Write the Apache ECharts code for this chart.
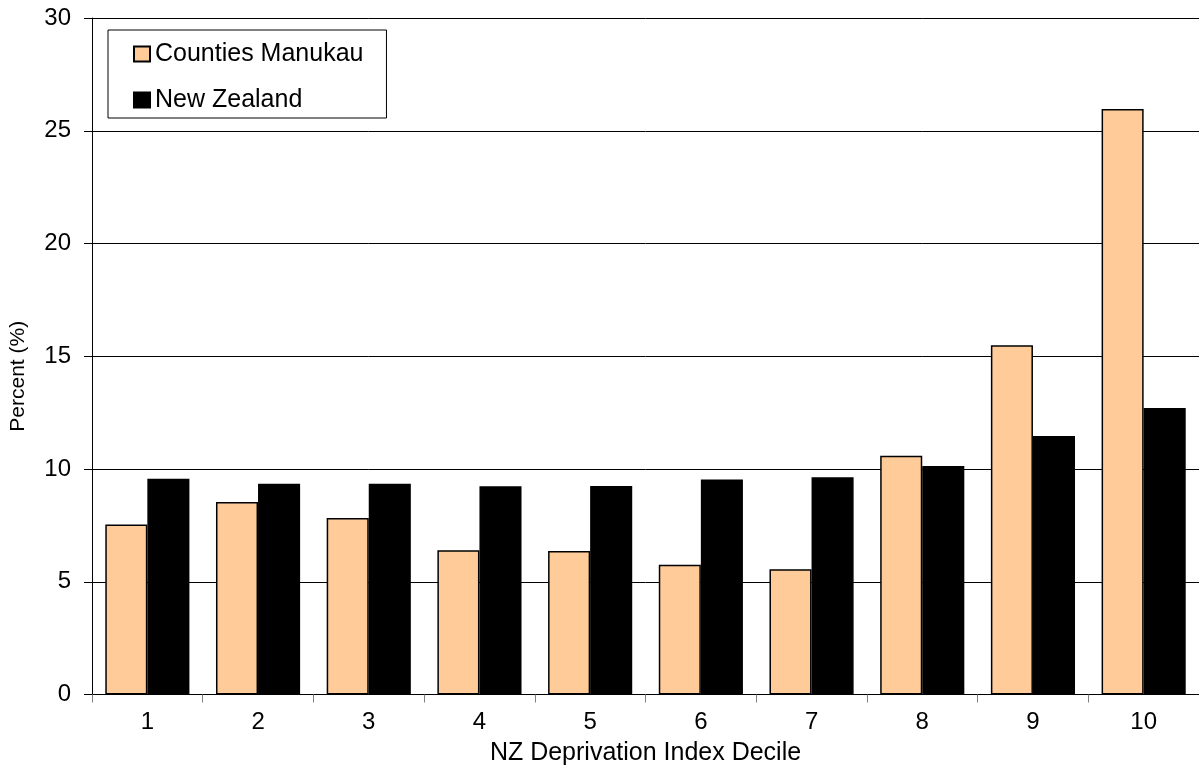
<!DOCTYPE html>
<html>
<head>
<meta charset="utf-8">
<script src="https://cdn.jsdelivr.net/npm/echarts@6/dist/echarts.min.js"></script>
<style>
html,body{margin:0;padding:0;background:#fff;}
#chart{width:1199px;height:771px;}
</style>
</head>
<body>
<div id="chart"></div>
<script>
const categories = ['1','2','3','4','5','6','7','8','9','10'];
const countiesManukau = [7.54, 8.54, 7.83, 6.40, 6.36, 5.75, 5.55, 10.59, 15.49, 25.96];
const newZealand = [9.57, 9.35, 9.35, 9.23, 9.25, 9.53, 9.63, 10.13, 11.46, 12.70];
const seriesNames = ['Counties Manukau', 'New Zealand'];
const yTicks = {min: 0, max: 30, interval: 5};

const FONT = '"Liberation Sans", Arial, sans-serif';
const chart = echarts.init(document.getElementById('chart'), null, {renderer: 'canvas'});
chart.setOption({
  animation: false,
  backgroundColor: '#ffffff',
  textStyle: {fontFamily: FONT, color: '#000'},
  legend: {
    orient: 'vertical',
    left: 108,
    top: 30,
    padding: [11.5, 23, 5.5, 25],
    itemGap: 21,
    itemWidth: 16,
    itemHeight: 15,
    borderColor: '#000',
    borderWidth: 1,
    backgroundColor: '#fff',
    icon: 'rect',
    textStyle: {fontFamily: FONT, fontSize: 25, color: '#000', lineHeight: 25},
    data: seriesNames
  },
  grid: {left: 90, right: 0, top: 18, bottom: 74, containLabel: false},
  xAxis: {
    type: 'category',
    data: categories,
    name: 'NZ Deprivation Index Decile',
    nameLocation: 'middle',
    nameGap: 59,
    nameTextStyle: {fontFamily: FONT, fontSize: 25, color: '#000', verticalAlign: 'middle'},
    axisLine: {lineStyle: {color: '#000', width: 1}},
    axisTick: {show: true, length: 8, lineStyle: {color: '#808080', width: 1}},
    axisLabel: {fontFamily: FONT, fontSize: 24, color: '#000', margin: 16},
    splitLine: {show: false}
  },
  yAxis: {
    type: 'value',
    min: yTicks.min,
    max: yTicks.max,
    interval: yTicks.interval,
    name: 'Percent (%)',
    nameLocation: 'middle',
    nameGap: 63,
    nameTextStyle: {fontFamily: FONT, fontSize: 21, color: '#000', padding: [0, 40, 0, 0]},
    axisLine: {show: true, lineStyle: {color: '#000', width: 1}},
    axisTick: {show: true, length: 8, lineStyle: {color: '#000', width: 1}},
    axisLabel: {fontFamily: FONT, fontSize: 24, color: '#000', margin: 21},
    splitLine: {show: true, lineStyle: {color: '#000', width: 1}}
  },
  series: [
    {
      name: seriesNames[0],
      type: 'bar',
      data: countiesManukau,
      barGap: '0%',
      barCategoryGap: '24%',
      itemStyle: {color: '#FFCC99', borderColor: '#000', borderWidth: 1.5}
    },
    {
      name: seriesNames[1],
      type: 'bar',
      data: newZealand,
      barGap: '0%',
      barCategoryGap: '24%',
      itemStyle: {color: '#000000', borderColor: '#000', borderWidth: 1.5}
    }
  ]
});
</script>
</body>
</html>
